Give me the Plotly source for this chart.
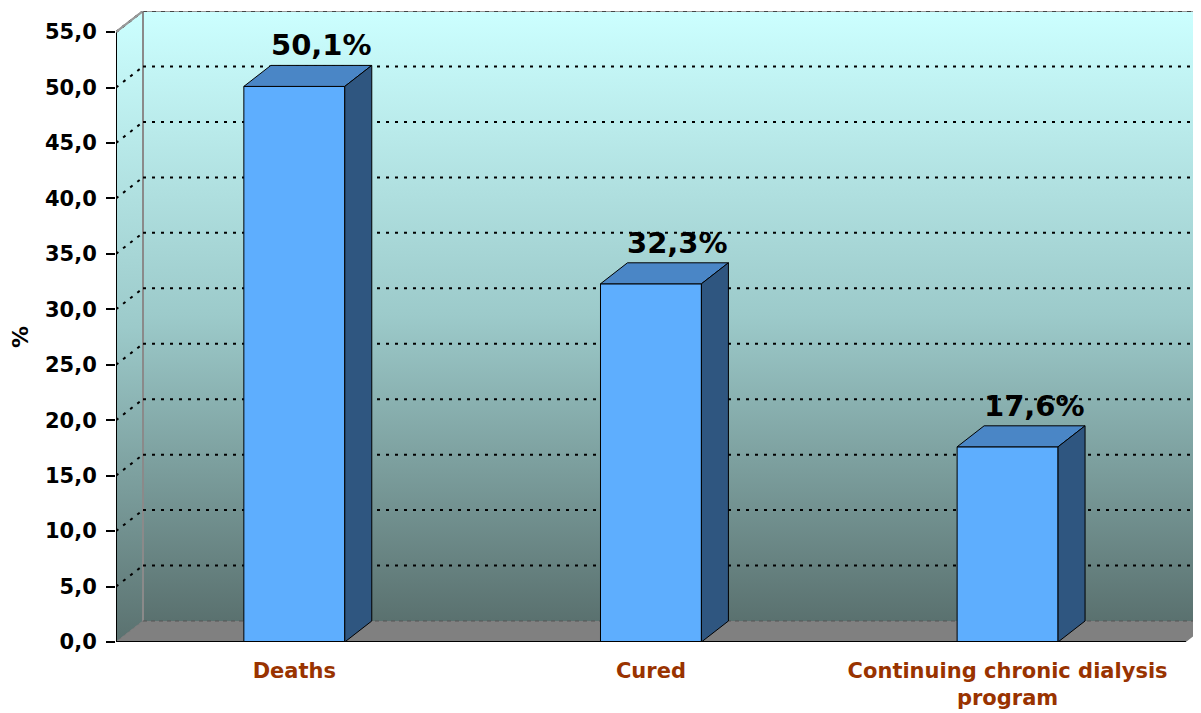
import plotly.graph_objects as go

# ---- data ----
categories = ["Deaths", "Cured", "Continuing chronic dialysis<br>program"]
values = [50.1, 32.3, 17.6]
value_labels = ["50,1%", "32,3%", "17,6%"]
y_ticks = [0, 5, 10, 15, 20, 25, 30, 35, 40, 45, 50, 55]
y_tick_labels = ["0,0", "5,0", "10,0", "15,0", "20,0", "25,0", "30,0",
                 "35,0", "40,0", "45,0", "50,0", "55,0"]
y_title = "%"

# ---- geometry (axis units) ----
N = len(categories)
XMAX = 3.09           # x range runs past the right edge of the page
YMAX = 56.9
DX = 0.0757           # depth offset in x units
DY = 1.894            # depth offset in y units
BAR_W = 0.283
centers = [i + 0.5 for i in range(N)]

FONT = "DejaVu Sans, Verdana, sans-serif"
FRONT = "#5eaefe"
TOP = "#4a86c6"
SIDE = "#2f5680"
wall_scale = [[0, "#5a716f"], [0.5, "#9ccaca"], [1, "#ccffff"]]

fig = go.Figure()

def poly(xs, ys, color=None, line_color="black", line_width=1, gradient=False):
    kw = dict(x=xs + [xs[0]], y=ys + [ys[0]], mode="lines", fill="toself",
              line=dict(color=line_color, width=line_width),
              hoverinfo="skip", showlegend=False)
    if gradient:
        kw["fillgradient"] = dict(type="vertical", colorscale=wall_scale)
    else:
        kw["fillcolor"] = color
    fig.add_trace(go.Scatter(**kw))

# back wall and side wall
poly([DX, XMAX, XMAX, DX], [DY, DY, y_ticks[-1] + DY, y_ticks[-1] + DY],
     line_color="rgba(0,0,0,0)", line_width=0, gradient=True)
poly([0, DX, DX, 0], [0, DY, y_ticks[-1] + DY, y_ticks[-1]],
     line_color="rgba(0,0,0,0)", line_width=0, gradient=True)
# floor
poly([0, N, N + DX, DX], [0, 0, DY, DY], color="#808080",
     line_color="rgba(0,0,0,0)", line_width=0)

def line(xs, ys, color, width, dash="solid"):
    fig.add_trace(go.Scatter(x=xs, y=ys, mode="lines",
                             line=dict(color=color, width=width, dash=dash),
                             hoverinfo="skip", showlegend=False))

# back wall left edge
line([DX, DX], [DY, y_ticks[-1] + DY], "#8a8a8a", 2)
# gridlines
for v in y_ticks:
    if v == 0:
        line([DX, XMAX], [DY, DY], "#555555", 1, "4px,4px")
        line([0, DX], [0, DY], "#777777", 1)
    elif v == y_ticks[-1]:
        line([DX, XMAX], [v + DY, v + DY], "#9a9a9a", 2)
        line([DX, XMAX], [v + DY, v + DY], "#444444", 2, "4px,5px")
        line([0, DX], [v, v + DY], "#9a9a9a", 2)
        line([0, DX], [v, v + DY], "#222222", 2, "3px,5px")
    else:
        line([DX, XMAX], [v + DY, v + DY], "black", 2, "3px,6px")
        line([0, DX], [v, v + DY], "black", 2, "3px,6px")

# bars
for c, v in zip(centers, values):
    l, r = c - BAR_W / 2, c + BAR_W / 2
    poly([l, r, r, l], [0, 0, v, v], FRONT)
    poly([l, r, r + DX, l + DX], [v, v, v + DY, v + DY], TOP)
    poly([r, r + DX, r + DX, r], [0, DY, v + DY, v], SIDE)

# front axes
line([0, 0], [0, y_ticks[-1]], "black", 2)
line([0, DX], [y_ticks[-1], y_ticks[-1] + DY], "#9a9a9a", 2)
line([0, N], [0, 0], "black", 2)
for i in range(N + 1):
    line([i, i], [0, -0.75], "black", 2)

annotations = []
for c, v, t in zip(centers, values, value_labels):
    annotations.append(dict(x=c + DX, y=v + DY, text=t, showarrow=False,
                            xanchor="center", yanchor="bottom", yshift=1,
                            font=dict(family=FONT, size=29, color="black",
                                      weight="bold")))
annotations.append(dict(xref="paper", x=-0.0871, yref="y", y=27.5, text=y_title,
                        showarrow=False, textangle=-90,
                        xanchor="center", yanchor="middle",
                        font=dict(family=FONT, size=22, color="black",
                                  weight="bold")))

fig.update_layout(
    width=1210, height=705,
    margin=dict(l=108, r=0, t=3, b=71),
    paper_bgcolor="white", plot_bgcolor="white",
    template="none",
    showlegend=False,
    annotations=annotations,
    xaxis=dict(range=[0, XMAX], tickvals=centers, ticktext=categories,
               ticks="", showline=False, showgrid=False, zeroline=False,
               automargin=False, fixedrange=True, ticklabelstandoff=14,
               tickfont=dict(family=FONT, size=21, color="#993300", weight="bold")),
    yaxis=dict(range=[0, YMAX], tickvals=y_ticks, ticktext=y_tick_labels,
               ticks="outside", ticklen=9, tickwidth=2, tickcolor="black",
               showline=False, showgrid=False, zeroline=False,
               automargin=False, fixedrange=True, ticklabelstandoff=5,
               tickfont=dict(family=FONT, size=21, color="black", weight="bold")),
)

fig.write_html("out.html")
